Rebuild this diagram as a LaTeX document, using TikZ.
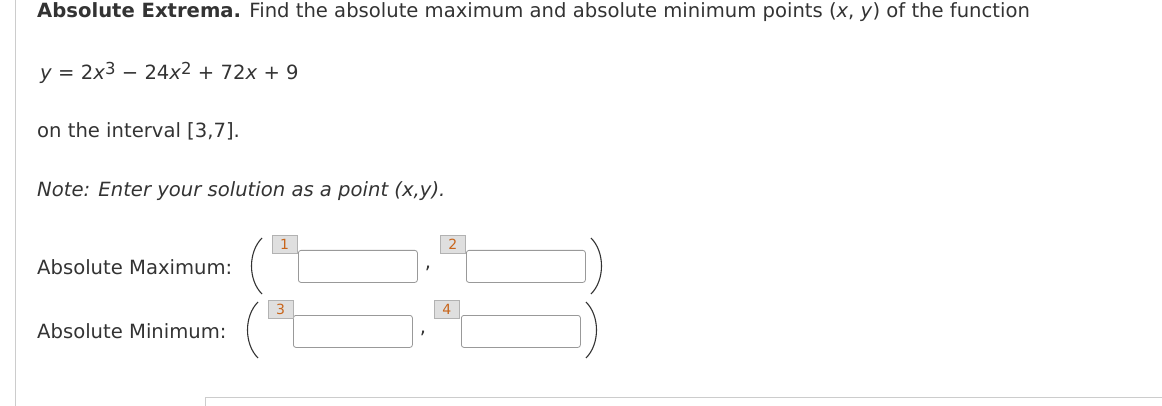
\documentclass[tikz,border=0pt]{standalone}
\usepackage{fontspec}
\setmainfont{DejaVu Sans}
\definecolor{txt}{HTML}{333333}
\definecolor{org}{HTML}{C8651B}
\tikzset{x=1pt,y=-1pt,
 t/.style={anchor=west,inner sep=0pt,text=txt,font=\fontsize{19.6}{22}\selectfont},
 inbox/.style={draw=gray!80,rounded corners=2.5pt,line width=0.8pt,minimum width=119pt,minimum height=32pt,anchor=north west,inner sep=0pt},
 tag/.style={draw=gray!60,fill=gray!25,text=org,font=\fontsize{14}{15}\selectfont,minimum width=25pt,minimum height=18pt,anchor=north west,inner sep=0pt},
 parl/.style={draw=txt,line width=1.1pt},
 comma/.style={inner sep=0pt,text=txt,font=\fontsize{19.6}{22}\selectfont}}
\begin{document}
\begin{tikzpicture}
\useasboundingbox (0,0) rectangle (1162,406);
\draw[gray!40,line width=1pt] (15,0) -- (15,406);
\draw[gray!40,line width=1pt] (205,406) -- (205,397) -- (1162,397);
\node[t] (title) at (37,12) {\textbf{Absolute Extrema.} Find the absolute maximum and absolute minimum points (\textit{x}, \textit{y}) of the function};
\node[t] (eq) at (40,73) {\textit{y} = 2\textit{x}\raisebox{0.45ex}{\fontsize{16.5}{16}\selectfont 3} − 24\textit{x}\raisebox{0.45ex}{\fontsize{16.5}{16}\selectfont 2} + 72\textit{x} + 9};
\node[t] (intv) at (37,131) {on the interval [3,7].};
\node[t] (note) at (37,191) {\textit{Note: Enter your solution as a point (x,y).}};
\node[t] (max) at (37,267) {Absolute Maximum:};
\node[t] (min) at (37,331) {Absolute Minimum:};
\coordinate (p1a) at (262,238); \coordinate (p1b) at (262,294);
\coordinate (p2a) at (591,238); \coordinate (p2b) at (591,294);
\coordinate (p3a) at (258,302); \coordinate (p3b) at (258,358);
\coordinate (p4a) at (586,302); \coordinate (p4b) at (586,358);
\draw[parl] (p1a) .. controls (248,252) and (248,280) .. (p1b);
\draw[parl] (p2a) .. controls (605,252) and (605,280) .. (p2b);
\draw[parl] (p3a) .. controls (244,316) and (244,344) .. (p3b);
\draw[parl] (p4a) .. controls (600,316) and (600,344) .. (p4b);
\node[inbox] (b1) at (298,250) {};
\node[inbox] (b2) at (466,250) {};
\node[inbox] (b3) at (293,315) {};
\node[inbox] (b4) at (461,315) {};
\node[tag] (l1) at (272,235) {1};
\node[tag] (l2) at (440,235) {2};
\node[tag] (l3) at (268,300) {3};
\node[tag] (l4) at (434,300) {4};
\node[comma] (c1) at (428,268) {,};
\node[comma] (c2) at (423,333) {,};
\end{tikzpicture}
\end{document}
